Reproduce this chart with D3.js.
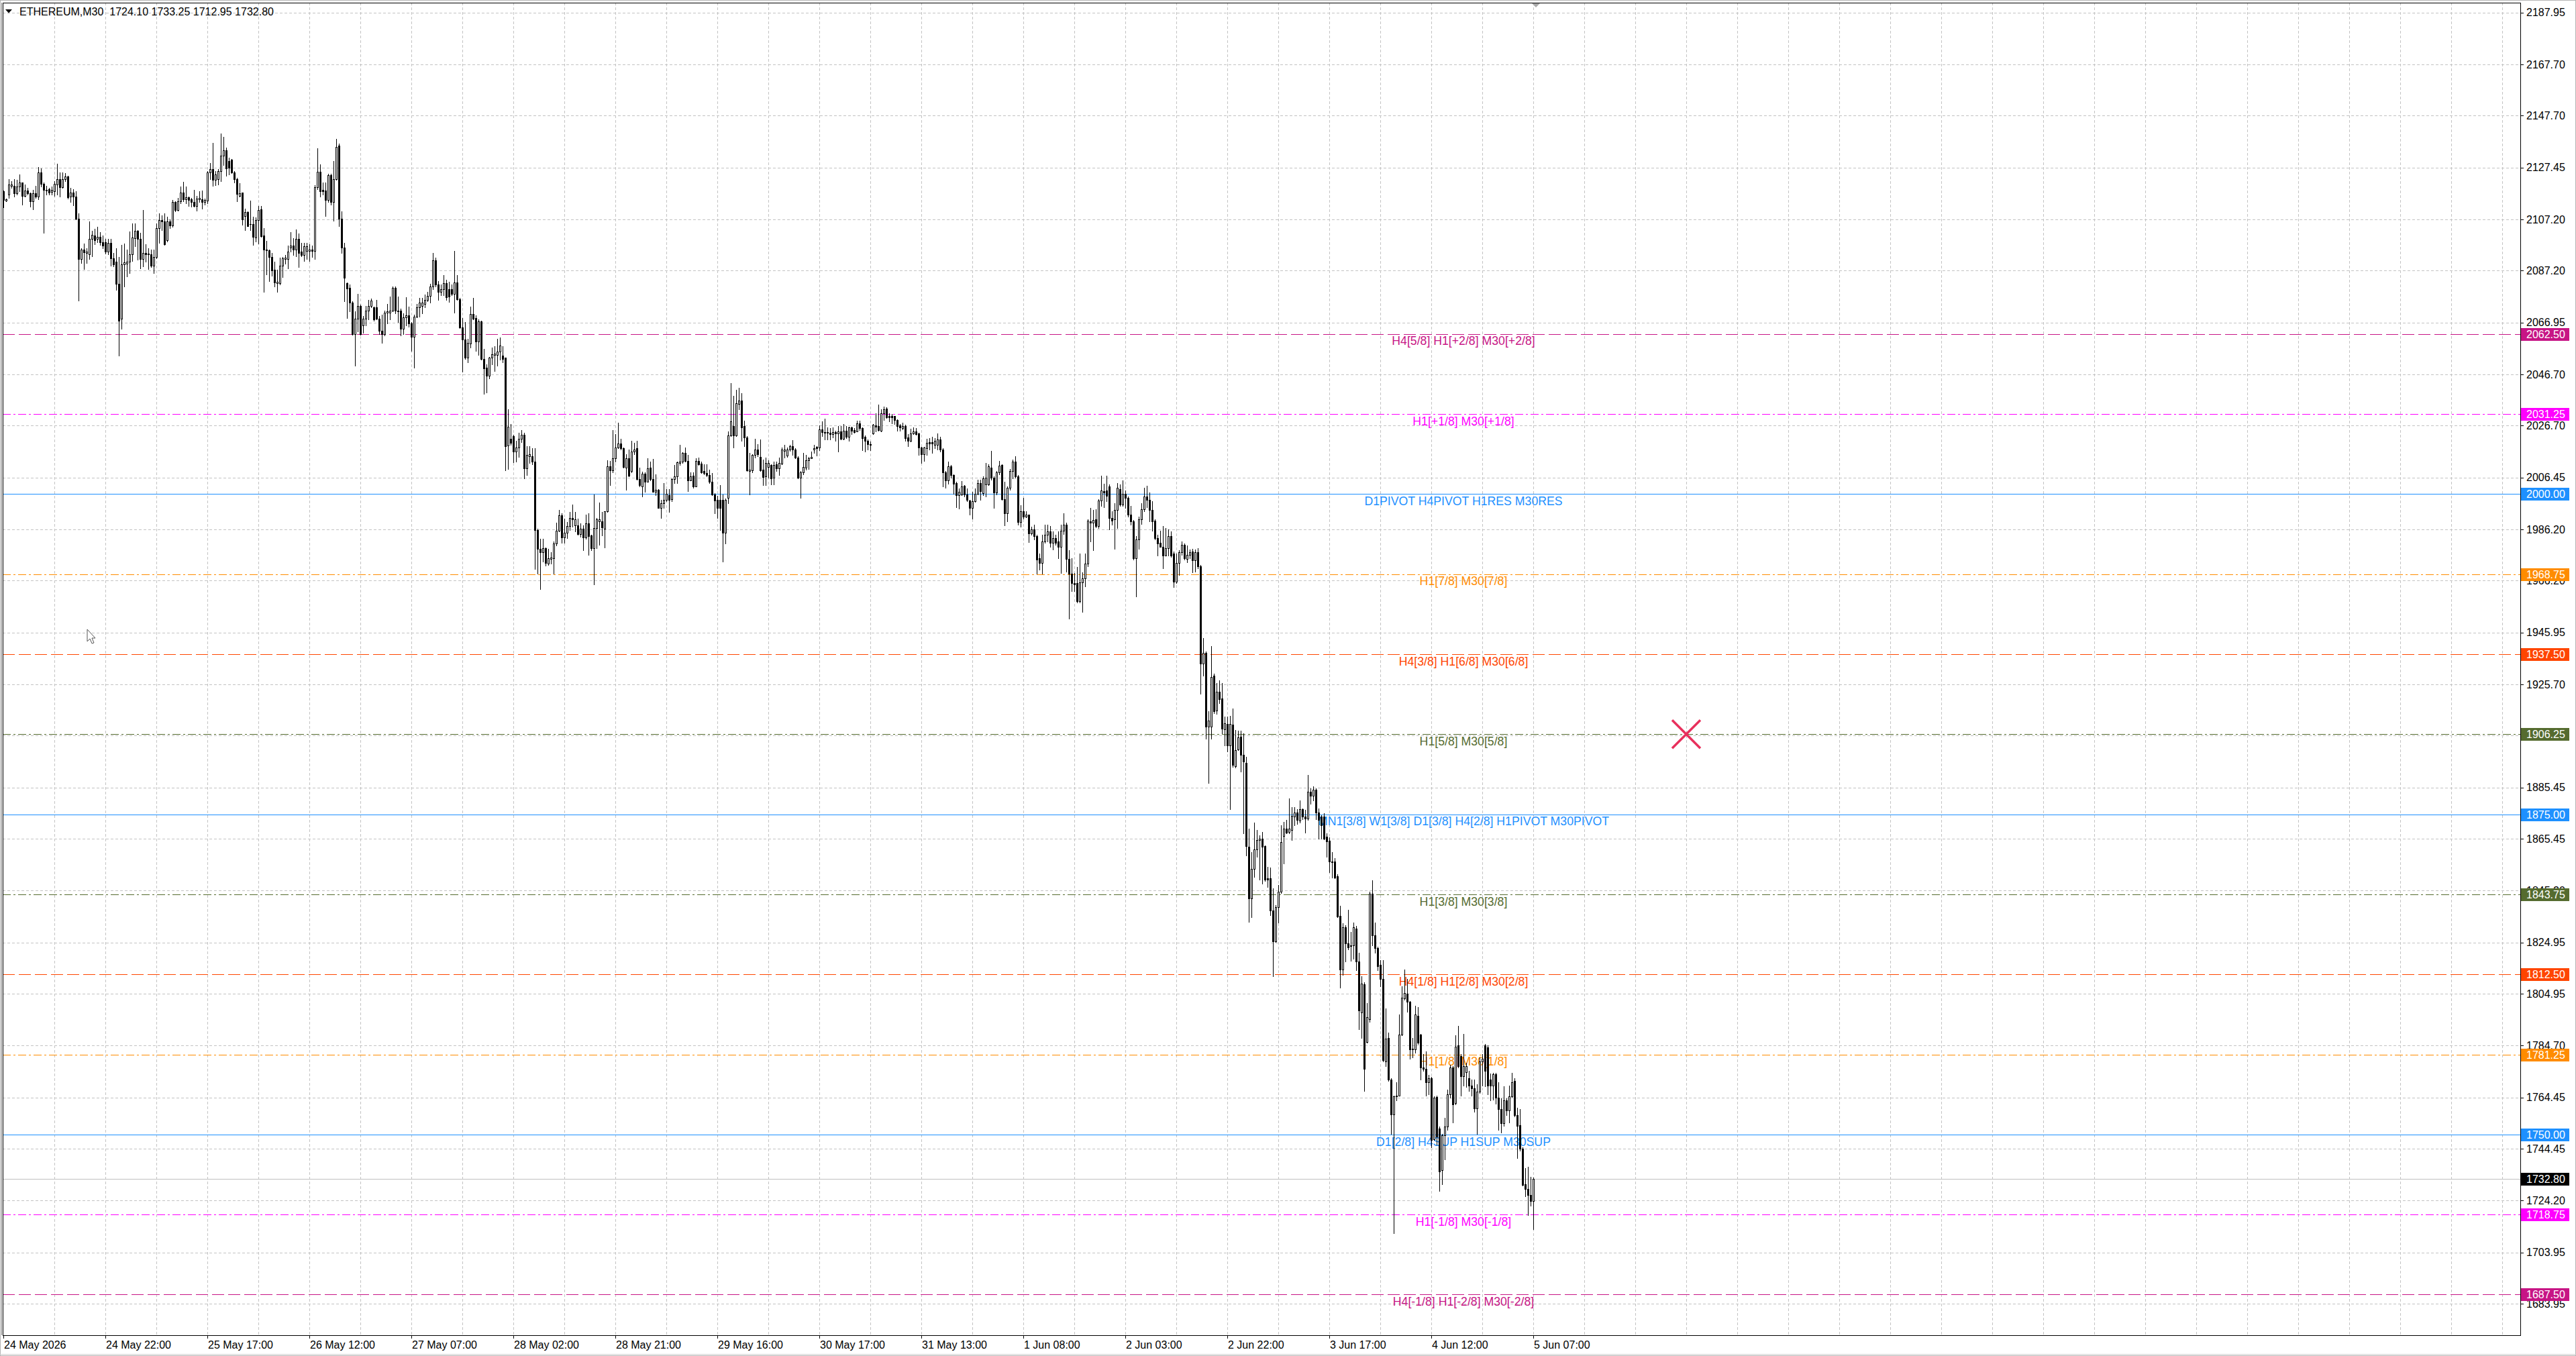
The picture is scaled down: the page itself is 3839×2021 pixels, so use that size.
<!DOCTYPE html>
<html><head><meta charset="utf-8">
<script src="https://cdn.jsdelivr.net/npm/d3@7/dist/d3.min.js"></script>
<style>html,body{margin:0;padding:0;background:#fff;overflow:hidden}svg{display:block}</style>
</head><body>
<svg id="chart" width="3839" height="2021"></svg>
<script>
// ---------------- DATA ----------------
const symbolTitle = "ETHEREUM,M30";
const headerOHLC = ["1724.10", "1733.25", "1712.95", "1732.80"];

const opens = [
2118.2,2114.5,2116.9,2120.2,2120.2,2117.5,2120.0,2121.7,2116.5,2118.4,
2117.5,2114.3,2117.4,2116.2,2125.5,2121.0,2118.8,2119.0,2118.0,2118.2,
2120.8,2123.0,2119.7,2122.8,2124.1,2116.0,2117.6,2116.0,2107.5,2091.8,
2095.3,2094.2,2093.5,2099.6,2100.9,2099.5,2100.3,2098.3,2098.3,2094.6,
2098.1,2092.0,2090.7,2082.0,2068.5,2089.6,2089.8,2090.7,2093.5,2099.9,
2102.8,2099.5,2091.8,2094.0,2093.6,2093.6,2089.1,2092.5,2103.8,2107.0,
2106.4,2099.0,2106.4,2104.9,2114.0,2110.8,2114.3,2117.8,2115.0,2115.8,
2115.2,2114.0,2112.5,2115.0,2115.0,2113.9,2114.5,2125.6,2126.9,2122.6,
2122.8,2126.1,2132.2,2134.1,2130.0,2130.6,2125.6,2122.8,2116.3,2117.6,
2108.4,2110.1,2105.5,2105.5,2100.1,2107.0,2111.2,
2100.8,2095.4,2095.2,
2092.5,2087.6,2082.3,2082.3,2089.1,2091.7,2091.7,2096.1,2097.1,2095.4,
2099.6,2094.6,2093.4,2094.9,2094.9,2095.4,2094.9,2119.7,2125.8,2118.8,
2118.5,2114.8,2124.6,2113.9,2123.0,2135.9,2107.4,2096.1,2082.3,2080.5,
2074.7,2062.4,2068.5,2073.5,2065.9,2068.5,2071.5,2073.3,2072.9,2072.9,
2068.5,2063.8,2062.4,2070.8,2070.8,2071.5,2080.5,2071.5,2071.5,2064.5,
2068.9,2069.7,2066.5,2061.5,2069.2,2072.9,2073.5,2074.3,2075.9,2077.4,
2081.1,2091.3,2081.7,2078.8,2080.0,2082.3,2080.0,2080.0,2078.2,2082.5,
2076.1,2065.0,2060.3,2053.3,2058.7,2070.4,2068.8,2059.5,2067.3,2052.8,
2049.2,2046.3,2053.3,2054.2,2054.2,2055.6,2054.0,2053.3,2018.9,2021.5,
2022.7,2016.6,2018.2,2021.5,2023.2,2010.0,
2014.8,2014.8,2012.6,1985.9,
1978.5,1977.4,1979.0,1972.8,1974.8,1975.0,1980.7,1985.8,1991.6,1983.1,
1984.9,1987.5,1990.7,1987.7,1987.7,1984.5,1986.6,1983.1,1988.6,1983.8,
1978.8,1986.8,1989.4,1989.4,1986.4,1993.2,2010.8,2009.3,2014.1,2018.1,
2019.7,2017.8,2010.4,2013.9,2009.1,2016.5,2018.0,2005.8,2003.1,2007.9,
2004.9,2010.4,2005.8,2001.0,2001.7,1994.7,1996.4,1997.7,1999.5,1997.9,
2005.8,2006.9,2012.1,2012.6,2016.1,2012.8,2005.4,2007.1,2003.1,2013.0,
2011.9,2009.1,2008.2,2007.3,2004.7,1999.7,1997.7,1997.7,1997.7,1984.9,
1998.6,2022.9,2026.5,2022.9,2035.3,2036.4,2026.5,2022.2,2009.1,2009.3,
2015.2,2017.4,2014.5,2009.5,2006.9,2010.6,2011.3,2006.5,2011.7,2010.0,
2012.0,2016.9,2014.9,2017.4,2018.7,
2017.5,2014.3,2006.5,2008.5,2010.4,
2013.2,2014.0,2017.4,2018.3,2018.1,2025.2,2024.2,2024.2,2023.9,2023.3,
2024.2,2023.7,2024.5,2021.6,2024.8,2022.4,2025.9,2025.1,2024.5,2027.7,
2025.7,2022.4,2020.9,2019.6,2023.7,2026.8,2026.5,2024.8,2031.4,2033.3,
2030.5,2030.5,2030.5,2028.9,2026.8,2025.7,2026.5,2022.2,2020.7,2023.7,
2024.5,2023.7,2018.1,2015.5,2017.8,2020.2,2020.2,2019.3,2019.3,2021.3,
2017.5,2008.6,2005.3,2010.8,2007.3,2004.3,1999.5,1999.9,2003.2,1999.9,
1997.5,1994.7,1997.1,2000.1,2004.3,2000.4,2003.8,2003.8,2010.4,2006.5,
2000.5,2008.5,2011.3,1998.0,1992.5,2002.5,2009.1,2012.6,2006.9,1989.0,
1993.4,1991.2,1991.9,1984.6,
1986.1,1983.5,1975.0,1973.0,1981.5,1984.1,
1985.4,1981.1,1982.8,1981.5,1979.3,1985.7,1988.0,1974.7,1968.9,1965.2,
1965.2,1958.3,1965.6,1967.2,1972.8,1989.3,1988.7,1990.2,1987.6,1997.5,
2001.1,2001.4,2003.0,1990.6,1990.2,1993.9,2002.0,1995.8,2000.1,1998.4,
1991.9,1989.3,1975.0,1982.2,1990.2,1994.1,1999.1,1997.8,1993.9,1989.7,
1982.8,1980.9,1979.5,1975.9,1978.9,1983.5,1976.9,1965.9,1973.0,1977.2,
1980.2,1974.6,1976.3,1977.6,1974.1,1977.2,1971.7,1933.9,1938.1,1909.2,
1909.2,1929.0,1915.5,1922.9,1920.3,1908.2,1910.2,1902.0,1909.9,1893.8,
1900.3,1905.3,1898.1,1895.1,1862.3,1842.1,1853.8,1861.2,1864.9,1865.5,
1862.5,1849.9,1849.9,1837.5,1825.5,1838.8,1844.7,1866.5,1869.5,1868.1,
1868.8,1874.0,1875.6,1872.5,1876.9,1874.0,1873.4,1883.8,1882.1,1884.7,
1875.6,1874.0,1874.0,1866.2,
1864.8,1856.5,1856.5,1850.8,1835.4,1814.3,
1830.8,1824.7,1823.9,1823.9,1830.5,1817.6,1797.7,1808.6,1786.2,1795.1,
1844.1,1827.7,1822.7,1816.2,1810.7,1778.4,1787.6,1771.5,1757.9,1764.8,
1765.1,1789.0,1803.2,1804.9,1801.7,1783.6,1783.2,1796.3,1789.0,1776.1,
1775.5,1770.3,1772.0,1748.2,1764.6,1752.4,1736.0,1749.6,1753.0,1765.7,
1776.1,1762.2,1784.7,1780.7,1772.8,1774.4,1772.0,1769.2,1768.0,1760.2,
1766.6,1778.4,1784.7,1783.9,1771.5,1769.2,1773.5,1764.3,1759.9,1754.4,
1763.4,1759.4,1764.8,1770.9,1757.6,1753.6,1744.4,1730.5,1728.8,1726.5,
1724.10];

const highs = [
2118.4,2115.3,2122.8,2122.1,2123.0,2122.6,2124.8,2121.7,2120.8,2119.5,
2117.8,2118.7,2120.2,2127.6,2127.1,2121.7,2120.2,2119.5,2120.0,2122.1,
2128.9,2125.6,2125.6,2125.2,2124.3,2119.5,2119.1,2118.2,2109.5,2095.9,
2097.7,2095.9,2106.3,2102.8,2103.6,2104.2,2102.2,2100.8,2099.5,2099.6,
2099.5,2094.0,2095.9,2092.5,2097.3,2097.7,2095.3,2102.5,2105.6,2105.7,
2103.1,2102.1,2111.0,2097.5,2095.9,2095.5,2095.3,2105.6,2109.7,2108.9,
2109.5,2108.2,2107.3,2114.7,2114.3,2115.6,2120.1,2121.9,2120.0,2116.0,
2115.6,2118.7,2116.5,2118.2,2118.4,2115.3,2126.1,2129.1,2137.0,2126.1,
2126.9,2140.7,2139.4,2135.2,2131.3,2130.9,2126.1,2123.5,2121.4,2117.8,
2111.4,2110.4,2114.5,2108.2,2107.9,2112.4,2112.5,
2103.9,2098.7,2095.4,
2094.0,2090.7,2087.6,2092.2,2092.5,2093.4,2096.9,2102.2,2099.8,2103.3,
2101.6,2098.1,2098.1,2098.1,2097.5,2096.9,2120.6,2135.1,2128.8,2121.5,
2121.5,2125.0,2125.0,2130.0,2138.7,2136.7,2110.4,2098.1,2082.5,2081.7,
2075.3,2071.2,2078.2,2073.9,2069.4,2073.5,2075.9,2076.2,2073.2,2075.9,
2069.4,2070.0,2071.5,2074.1,2077.0,2081.1,2081.1,2077.0,2072.4,2070.6,
2076.7,2073.2,2067.1,2070.0,2074.1,2076.5,2076.5,2077.9,2079.0,2082.1,
2094.2,2092.2,2083.2,2081.7,2085.6,2083.7,2082.9,2081.7,2094.8,2085.6,
2076.5,2068.8,2067.1,2060.7,2073.2,2076.5,2069.7,2068.3,2067.7,2056.6,
2050.7,2053.6,2057.1,2057.7,2060.7,2061.2,2057.7,2053.3,2033.2,2027.3,
2023.2,2020.9,2023.8,2025.0,2023.8,2018.6,
2018.7,2017.8,2017.8,1986.4,
1982.5,1982.6,1979.1,1978.5,1977.2,1981.6,1988.7,1993.8,1992.5,1990.3,
1989.0,1992.9,1996.0,1992.9,1990.3,1988.6,1987.7,1992.0,1992.5,1984.2,
1999.9,1990.7,1996.6,1992.9,1993.4,2013.2,2013.0,2025.0,2023.5,2027.8,
2021.6,2018.2,2015.6,2017.4,2020.9,2020.0,2020.9,2010.4,2008.8,2008.6,
2013.9,2012.6,2013.7,2007.8,2001.8,1997.7,2004.4,2001.8,2001.8,2006.0,
2011.4,2012.6,2019.1,2016.3,2018.2,2015.2,2008.6,2008.6,2013.9,2014.3,
2012.6,2011.7,2011.7,2009.5,2008.2,2000.3,1999.2,2003.4,1999.9,1998.2,
2024.5,2043.4,2038.3,2040.8,2041.4,2039.4,2028.7,2022.6,2016.1,2015.6,
2021.6,2019.6,2021.3,2013.4,2014.3,2013.2,2011.7,2012.6,2012.6,2014.3,
2018.1,2019.1,2018.2,2019.1,2021.0,
2017.8,2014.8,2009.1,2016.1,2015.2,
2014.6,2016.5,2019.1,2018.7,2026.8,2028.3,2029.4,2026.1,2025.7,2026.1,
2024.8,2026.5,2026.5,2027.4,2026.5,2026.3,2026.3,2025.7,2028.7,2028.7,
2025.9,2022.8,2021.3,2020.4,2027.2,2031.5,2035.0,2033.1,2034.1,2033.8,
2031.5,2031.2,2030.6,2029.2,2027.4,2027.9,2027.0,2023.3,2025.4,2025.9,
2025.7,2023.9,2018.4,2018.4,2021.6,2021.8,2022.4,2021.9,2023.7,2022.4,
2017.8,2009.1,2012.6,2011.3,2007.6,2004.7,2002.1,2005.0,2003.6,2002.1,
1997.7,2000.8,2002.1,2005.6,2005.6,2006.9,2012.1,2011.7,2016.9,2006.9,
2009.1,2013.0,2011.7,2004.7,2003.0,2009.7,2013.5,2014.8,2007.3,1995.6,
1998.6,1993.4,1992.1,1987.3,
1988.0,1984.1,1976.9,1984.1,1988.0,1988.0,
1987.4,1985.4,1984.1,1985.4,1988.0,1992.6,1988.7,1978.2,1975.0,1969.1,
1971.5,1976.7,1969.4,1976.7,1990.2,1994.5,1993.9,1994.1,1998.1,2007.2,
2004.0,2007.2,2003.7,1993.2,1996.5,2004.3,2003.7,2005.4,2001.4,1999.1,
1995.5,1990.0,1983.5,1991.3,1996.5,2002.4,2003.3,2000.7,1997.1,1990.2,
1984.1,1985.8,1987.6,1986.7,1986.3,1985.4,1977.6,1976.9,1978.0,1981.5,
1980.6,1979.8,1978.3,1978.5,1978.3,1978.9,1972.4,1943.7,1938.5,1915.1,
1940.7,1929.8,1926.1,1927.4,1926.1,1913.1,1913.1,1913.4,1916.4,1907.9,
1907.6,1907.6,1906.6,1897.5,1869.5,1860.3,1871.7,1868.8,1866.8,1868.1,
1862.9,1854.5,1854.2,1846.0,1839.5,1847.3,1870.8,1872.1,1872.7,1881.2,
1877.9,1877.9,1876.9,1880.5,1877.3,1876.6,1890.3,1885.1,1886.0,1885.1,
1877.3,1874.7,1875.3,1867.5,
1866.0,1860.2,1857.9,1851.6,1839.2,1832.5,
1831.6,1837.7,1829.1,1832.8,1831.4,1821.0,1811.8,1809.5,1801.4,1844.7,
1849.3,1832.6,1823.3,1818.1,1818.1,1799.1,1789.9,1772.0,1765.1,1770.5,
1796.8,1807.8,1814.4,1810.7,1802.0,1787.6,1800.3,1799.7,1789.3,1781.3,
1782.4,1773.2,1772.6,1764.8,1765.1,1753.0,1750.1,1756.5,1767.4,1777.2,
1776.7,1788.8,1792.5,1781.3,1789.3,1778.1,1774.9,1771.5,1771.5,1769.7,
1780.1,1781.3,1785.3,1784.7,1773.8,1774.0,1774.0,1770.3,1764.0,1768.9,
1764.0,1769.2,1774.0,1772.0,1760.5,1760.0,1745.0,1736.9,1737.5,1733.4,
1733.25];

const lows = [
2111.8,2114.3,2115.6,2119.5,2116.0,2116.9,2118.2,2113.0,2116.0,2116.9,
2112.1,2111.2,2115.6,2115.2,2120.0,2102.1,2116.9,2116.9,2116.9,2116.5,
2116.9,2116.2,2119.5,2122.1,2115.3,2113.9,2112.7,2107.3,2075.4,2090.3,
2087.9,2090.3,2091.8,2092.9,2097.5,2098.4,2097.3,2095.9,2093.8,2093.6,
2089.2,2089.0,2079.6,2054.0,2064.5,2081.1,2085.0,2086.3,2091.1,2096.8,
2091.6,2088.1,2088.8,2090.7,2087.9,2088.5,2086.2,2092.0,2098.0,2102.9,
2097.3,2098.6,2103.8,2104.2,2110.4,2110.5,2113.4,2114.3,2113.4,2112.5,
2112.1,2112.1,2110.5,2113.9,2111.5,2113.0,2113.4,2123.0,2120.4,2120.6,
2120.8,2122.1,2128.3,2124.3,2124.8,2125.2,2121.7,2114.3,2116.0,2105.1,
2102.9,2104.5,2102.9,2097.3,2098.6,2097.7,2100.3,
2079.0,2085.8,2083.2,
2085.2,2081.1,2078.8,2081.7,2084.6,2089.9,2088.1,2094.6,2093.4,2092.8,
2088.7,2092.8,2091.1,2091.7,2091.1,2092.6,2091.7,2119.1,2116.2,2116.8,
2108.6,2113.9,2112.9,2106.8,2122.6,2104.5,2094.0,2075.3,2068.6,2071.2,
2062.2,2050.1,2063.6,2062.2,2063.0,2065.9,2068.3,2072.9,2067.7,2068.3,
2062.4,2059.1,2061.8,2066.5,2068.3,2071.2,2070.6,2067.1,2061.8,2062.4,
2065.9,2065.3,2056.0,2049.3,2068.9,2069.2,2070.6,2072.9,2075.3,2074.7,
2080.0,2081.1,2075.9,2077.6,2077.6,2075.9,2075.0,2077.6,2070.8,2075.9,
2064.8,2047.8,2052.8,2051.3,2057.2,2068.3,2056.0,2054.2,2052.5,2039.0,
2039.6,2045.1,2050.7,2048.1,2050.1,2052.5,2051.3,2009.2,2009.8,2019.2,
2012.4,2012.7,2014.5,2020.3,2006.1,2007.5,
2012.1,2011.7,1970.7,1968.9,
1962.8,1973.7,1972.0,1972.4,1972.8,1968.9,1979.8,1985.5,1981.1,1981.1,
1982.9,1985.9,1987.3,1985.5,1984.2,1983.3,1978.1,1982.5,1976.3,1978.1,
1964.8,1979.0,1980.3,1983.8,1979.1,1992.9,2003.6,2008.6,2012.6,2017.8,
2017.4,2010.4,2001.7,2006.9,2008.6,2015.6,2005.6,2003.0,1999.0,2000.8,
2004.7,2005.2,2000.8,1999.5,1994.7,1990.7,1994.7,1997.3,1992.9,1997.3,
2004.3,2004.3,2011.3,2012.1,2012.6,2001.2,2005.2,2002.5,2003.0,2011.3,
2008.2,2007.8,2006.9,2004.3,1999.5,1992.5,1990.7,1985.9,1973.7,1980.7,
1996.4,2022.6,2018.2,2022.6,2033.1,2020.9,2018.7,2009.1,1999.9,2008.5,
2014.3,2014.8,2009.1,2003.4,2003.6,2006.5,2003.8,2003.8,2009.1,2007.3,
2011.7,2014.3,2014.6,2016.9,2015.2,
2013.9,2006.2,1998.6,2007.8,2009.5,
2009.9,2013.9,2016.1,2014.9,2017.2,2022.6,2021.3,2021.3,2021.3,2022.2,
2020.9,2016.5,2021.3,2021.3,2021.8,2020.9,2023.3,2023.9,2024.4,2025.1,
2017.2,2016.5,2017.4,2017.2,2023.3,2024.4,2024.8,2024.4,2028.9,2029.8,
2028.3,2027.7,2027.4,2024.8,2024.8,2025.2,2020.9,2018.7,2020.4,2023.3,
2023.1,2015.2,2012.1,2013.0,2015.2,2017.4,2016.1,2017.8,2017.4,2016.5,
2003.0,2002.5,2003.9,2006.5,2000.1,1994.9,1994.2,1999.5,1999.0,1997.3,
1992.1,1990.3,1996.9,1999.9,1997.7,1999.5,1999.0,2003.4,2005.6,1994.7,
1999.9,2007.8,1997.7,1987.9,1989.4,2001.7,2006.0,2006.5,1988.1,1987.3,
1990.3,1991.0,1981.2,1984.2,
1982.2,1968.9,1970.4,1968.9,1980.9,1981.5,
1979.3,1978.3,1980.2,1975.0,1969.1,1984.5,1969.8,1951.5,1962.0,1962.0,
1957.7,1957.7,1954.1,1963.9,1971.7,1981.5,1978.0,1987.1,1986.7,1995.4,
1994.9,1997.1,1986.3,1988.0,1978.5,1986.7,1995.4,1995.4,1994.5,1991.3,
1988.0,1974.3,1960.0,1978.5,1988.4,1993.2,1994.9,1989.3,1985.8,1982.2,
1975.9,1979.3,1971.1,1975.9,1975.9,1975.4,1963.6,1965.2,1968.5,1976.3,
1974.3,1973.3,1975.0,1969.4,1969.8,1971.1,1922.0,1929.0,1904.6,1887.3,
1904.6,1914.4,1914.1,1918.3,1906.6,1902.0,1899.4,1876.9,1893.6,1893.3,
1900.1,1891.6,1867.5,1859.0,1833.0,1834.9,1850.6,1858.4,1849.5,1848.0,
1849.0,1846.7,1835.6,1811.7,1825.2,1832.6,1844.3,1855.8,1867.5,1867.5,
1864.9,1870.8,1871.1,1871.7,1873.0,1867.8,1872.7,1879.2,1880.3,1873.0,
1865.5,1865.5,1865.2,1858.4,
1852.4,1850.4,1849.9,1834.9,1807.2,1812.4,
1817.6,1822.2,1817.8,1818.7,1814.1,1791.0,1787.6,1766.9,1785.9,1793.9,
1823.9,1821.0,1814.1,1807.8,1778.6,1776.7,1770.9,1750.1,1711.5,1763.4,
1765.1,1788.8,1802.6,1798.0,1779.5,1780.1,1781.8,1785.3,1771.5,1774.9,
1765.1,1765.7,1744.9,1747.8,1746.1,1727.9,1730.5,1740.4,1751.9,1764.3,
1754.8,1761.7,1776.1,1765.1,1769.2,1768.6,1766.9,1765.1,1758.8,1750.1,
1766.3,1769.2,1768.9,1765.7,1763.4,1763.6,1762.0,1751.9,1750.7,1753.3,
1757.6,1754.8,1764.6,1757.1,1740.9,1743.8,1730.0,1725.9,1718.5,1722.1,
1712.95];

const closes = [
2114.7,2115.2,2120.8,2120.8,2117.5,2120.0,2121.7,2116.5,2118.4,2117.4,
2114.3,2117.4,2116.2,2125.5,2121.0,2118.7,2118.5,2117.8,2118.7,2121.1,
2123.0,2119.7,2122.8,2124.1,2115.9,2117.6,2116.0,2107.5,2091.8,2095.3,
2094.4,2094.6,2099.6,2101.2,2099.2,2100.3,2098.4,2097.1,2094.6,2098.1,
2092.0,2089.6,2082.0,2067.6,2089.6,2090.5,2090.7,2093.5,2100.1,2102.8,
2099.5,2091.8,2094.0,2093.6,2093.9,2089.1,2092.6,2103.8,2107.0,2106.4,
2097.5,2106.4,2104.9,2114.0,2110.8,2114.3,2117.8,2115.0,2115.8,2114.7,
2114.0,2112.5,2115.3,2115.6,2113.9,2114.7,2125.6,2126.9,2122.6,2124.8,
2126.1,2132.2,2134.1,2127.2,2127.4,2125.6,2122.8,2117.2,2117.5,2107.3,
2110.1,2104.7,2105.3,2100.3,2107.0,2111.0,2100.6,
2095.4,2095.2,2092.5,
2087.2,2082.5,2082.9,2089.1,2091.9,2092.2,2094.6,2097.1,2095.4,2099.6,
2094.2,2093.4,2096.7,2096.7,2095.4,2094.9,2119.7,2125.8,2118.3,2118.3,
2114.8,2124.6,2113.9,2123.0,2135.5,2107.4,2096.1,2084.4,2080.3,2074.7,
2062.4,2068.5,2073.5,2062.4,2068.5,2071.5,2073.3,2075.5,2068.3,2068.5,
2063.8,2062.4,2070.8,2071.2,2071.5,2080.5,2071.5,2071.2,2064.5,2068.9,
2069.7,2066.5,2061.5,2069.2,2072.9,2074.7,2074.7,2075.9,2077.4,2081.1,
2091.3,2081.7,2078.8,2080.0,2082.3,2076.7,2077.0,2078.2,2082.6,2076.1,
2065.0,2060.3,2053.3,2058.9,2070.4,2068.5,2059.5,2067.3,2052.8,2049.0,
2046.3,2053.3,2054.5,2054.8,2055.6,2058.0,2052.8,2018.6,2026.4,2020.1,
2016.6,2018.2,2021.5,2023.2,2010.0,2015.4,
2015.6,2012.6,1985.9,1978.5,
1977.2,1979.0,1973.0,1975.0,1975.2,1980.7,1985.8,1991.6,1983.1,1984.9,
1987.5,1990.6,1990.1,1990.1,1984.5,1986.6,1983.1,1988.6,1983.5,1978.8,
1986.8,1990.1,1990.1,1987.0,1993.2,2010.8,2009.3,2014.1,2018.2,2019.7,
2017.8,2010.6,2013.9,2007.1,2016.7,2017.4,2005.8,2003.6,2007.9,2004.9,
2010.0,2005.8,2001.0,2001.7,1994.7,1996.4,1997.7,2000.1,1997.7,2005.8,
2006.9,2012.3,2012.6,2016.1,2012.8,2005.4,2006.9,2003.0,2012.8,2011.7,
2008.6,2008.2,2007.3,2004.7,1999.7,1997.6,1994.5,1994.7,1984.9,1997.7,
2022.9,2028.5,2022.9,2035.5,2036.4,2026.1,2022.2,2009.3,2009.5,2015.2,
2017.4,2015.5,2009.3,2006.7,2012.1,2012.1,2006.2,2011.3,2010.0,2012.1,
2017.5,2017.4,2017.4,2018.7,2017.4,
2014.3,2006.5,2008.5,2010.6,2013.2,
2014.0,2014.5,2017.8,2017.8,2025.2,2024.2,2023.9,2023.8,2023.3,2024.2,
2023.7,2024.4,2021.6,2024.8,2022.4,2025.9,2024.8,2024.2,2027.7,2025.7,
2021.9,2020.9,2019.6,2019.1,2027.0,2026.3,2025.1,2031.4,2033.1,2030.0,
2030.0,2030.0,2028.9,2026.5,2025.9,2026.5,2021.9,2020.7,2023.7,2024.5,
2023.5,2018.1,2015.5,2018.1,2020.0,2019.8,2019.8,2020.7,2021.3,2017.5,
2008.5,2005.3,2010.8,2007.3,2003.9,1999.5,2000.8,2003.0,1999.9,1997.7,
1994.7,1997.1,2000.1,2004.3,2001.2,2006.0,2006.5,2010.8,2006.5,2000.5,
2008.5,2011.0,1998.0,1992.5,2002.5,2009.1,2012.6,2006.9,1989.0,1993.4,
1991.2,1991.9,1984.6,1986.1,
1983.5,1974.3,1973.0,1981.5,1984.1,1985.4,
1981.1,1982.8,1981.1,1979.3,1985.7,1988.0,1974.7,1968.9,1965.2,1964.8,
1958.3,1965.6,1967.2,1972.8,1989.6,1988.7,1990.0,1987.6,1997.5,2001.4,
2000.7,1999.4,1990.6,1989.7,1993.9,2002.4,1995.8,2000.1,1998.4,1991.9,
1989.3,1975.0,1982.2,1990.2,1994.1,1999.1,1997.8,1993.9,1989.3,1982.8,
1980.6,1979.5,1975.9,1978.9,1983.5,1975.9,1965.9,1973.0,1977.2,1980.2,
1975.0,1976.3,1977.2,1974.1,1977.2,1971.7,1933.9,1938.1,1909.2,1911.5,
1928.7,1915.1,1922.9,1919.9,1908.5,1910.5,1902.0,1910.2,1894.2,1900.1,
1905.0,1898.1,1895.5,1862.5,1842.1,1853.8,1861.2,1864.9,1865.5,1862.3,
1849.5,1849.5,1837.5,1825.5,1838.8,1844.7,1864.2,1869.5,1867.8,1869.5,
1874.3,1875.6,1872.7,1876.9,1874.0,1873.4,1883.8,1882.1,1884.7,1875.6,
1872.7,1870.8,1865.5,1864.3,
1856.5,1856.2,1850.4,1835.1,1814.3,1830.8,
1824.7,1823.1,1823.6,1830.8,1817.6,1798.5,1808.9,1775.5,1795.7,1844.1,
1827.7,1822.7,1815.8,1810.7,1779.0,1787.4,1771.5,1757.9,1764.8,1765.1,
1789.0,1803.5,1805.1,1801.7,1783.2,1783.2,1796.8,1785.9,1776.1,1775.5,
1770.5,1772.0,1747.8,1764.3,1749.3,1735.5,1749.6,1753.0,1765.7,1776.1,
1761.7,1784.4,1776.7,1772.8,1776.7,1776.7,1769.2,1768.0,1760.2,1766.6,
1778.4,1779.5,1774.9,1769.2,1769.2,1773.5,1764.3,1759.9,1754.4,1763.4,
1759.4,1764.8,1770.5,1757.6,1753.3,1744.4,1730.2,1728.8,1726.5,1724.0,
1732.80];

// time axis: one label every 38 bars (19 hours of M30), grid every 19 bars
const timeLabels = ["24 May 2026","24 May 22:00","25 May 17:00","26 May 12:00","27 May 07:00",
  "28 May 02:00","28 May 21:00","29 May 16:00","30 May 17:00","31 May 13:00","1 Jun 08:00",
  "2 Jun 03:00","2 Jun 22:00","3 Jun 17:00","4 Jun 12:00","5 Jun 07:00"];
const barsPerLabel = 38;
const barsPerGrid = 19;

// right price scale
const priceTicks = [2187.95,2167.70,2147.70,2127.45,2107.20,2087.20,2066.95,2046.70,2026.70,
  2006.45,1986.20,1966.20,1945.95,1925.70,1905.70,1885.45,1865.45,1845.20,1824.95,1804.95,
  1784.70,1764.45,1744.45,1724.20,1703.95,1683.95];
const priceRange = [1671.65, 2191.81];

// Murrey-math style level lines
const levelPrices = [2062.50,2031.25,2000.00,1968.75,1937.50,1906.25,1875.00,1843.75,1812.50,1781.25,1750.00,1718.75,1687.50];
const levelTexts = ["H4[5/8] H1[+2/8] M30[+2/8]","H1[+1/8] M30[+1/8]","D1PIVOT H4PIVOT H1RES M30RES",
  "H1[7/8] M30[7/8]","H4[3/8] H1[6/8] M30[6/8]","H1[5/8] M30[5/8]",
  "MN1[3/8] W1[3/8] D1[3/8] H4[2/8] H1PIVOT M30PIVOT","H1[3/8] M30[3/8]","H4[1/8] H1[2/8] M30[2/8]",
  "H1[1/8] M30[1/8]","D1[2/8] H4SUP H1SUP M30SUP","H1[-1/8] M30[-1/8]","H4[-1/8] H1[-2/8] M30[-2/8]"];
const levelKinds = ["outer","ext","pivot","near","major","minor","pivot","minor","major","near","pivot","ext","outer"];
const levelLabelBar = 544;          // time anchor of the level captions
const lastPrice = 1732.80;
const crossMark = {bar: 627, price: 1906.25};

// ---------------- STYLE ----------------
const kindStyle = {
  outer: {color:"#C71585", dash:"18,6"},
  ext:   {color:"#FF00FF", dash:"12,4,3,4"},
  pivot: {color:"#1E90FF", dash:null},
  near:  {color:"#FF8C00", dash:"12,4,3,4"},
  major: {color:"#FF4500", dash:"18,6"},
  minor: {color:"#556B2F", dash:"12,4,3,4"}
};
const FONT = "'Liberation Sans', Arial, sans-serif";
const W = 3839, H = 2021;
const plot = {left:4, top:4, right:3756, bottom:1990};

// sanity check
const n = opens.length;
if (highs.length!==n || lows.length!==n || closes.length!==n) {
  throw new Error("length mismatch " + [opens.length,highs.length,lows.length,closes.length].join(","));
}

// ---------------- SCALES ----------------
const x = d3.scaleLinear().domain([0, n-1]).range([5, 5 + 4*(n-1)]);
const y = d3.scaleLinear().domain(priceRange).range([plot.bottom, plot.top]);
const px = v => Math.round(v) + 0.5;

const svg = d3.select("#chart");
svg.append("rect").attr("width",W).attr("height",H).attr("fill","#fff");

// window frame
svg.append("rect").attr("x",0.5).attr("y",0.5).attr("width",W-1).attr("height",H-1)
  .attr("fill","none").attr("stroke","#b4b4b4").attr("stroke-width",1);
svg.append("line").attr("x1",0).attr("x2",W).attr("y1",2018.5).attr("y2",2018.5).attr("stroke","#d0d0d0");

const g = svg.append("g").attr("shape-rendering","crispEdges");

// grid
const gridColor = "#c3c3c3";
priceTicks.forEach(p => {
  g.append("line").attr("x1",plot.left).attr("x2",plot.right).attr("y1",px(y(p))).attr("y2",px(y(p)))
    .attr("stroke",gridColor).attr("stroke-dasharray","4,3");
});
const maxBar = x.invert(plot.right);
for (let b = barsPerGrid; b < maxBar; b += barsPerGrid) {
  g.append("line").attr("x1",px(x(b))).attr("x2",px(x(b))).attr("y1",plot.top).attr("y2",plot.bottom)
    .attr("stroke",gridColor).attr("stroke-dasharray","4,3");
}

// level lines
levelPrices.forEach((p,i) => {
  const st = kindStyle[levelKinds[i]];
  const ln = g.append("line").attr("x1",plot.left).attr("x2",plot.right)
    .attr("y1",px(y(p))).attr("y2",px(y(p))).attr("stroke",st.color);
  if (st.dash) ln.attr("stroke-dasharray",st.dash);
});
// current price line
g.append("line").attr("x1",plot.left).attr("x2",plot.right).attr("y1",px(y(lastPrice))).attr("y2",px(y(lastPrice)))
  .attr("stroke","#c0c0c0");

// level captions (behind candles)
const capG = svg.append("g");
levelPrices.forEach((p,i) => {
  capG.append("text").attr("x", x(levelLabelBar)).attr("y", y(p) + 16.7)
    .attr("text-anchor","middle").attr("font-family",FONT).attr("font-size","17.7px")
    .attr("fill", kindStyle[levelKinds[i]].color).text(levelTexts[i]);
});

// candles
const cg = svg.append("g").attr("shape-rendering","crispEdges");
for (let i = 0; i < n; i++) {
  const o = opens[i], h = highs[i], l = lows[i], c = closes[i];
  const xc = Math.round(x(i));
  cg.append("line").attr("x1",xc+0.5).attr("x2",xc+0.5)
    .attr("y1",Math.round(y(h))).attr("y2",Math.round(y(l))+1).attr("stroke","#000");
  const top = Math.round(y(Math.max(o,c))), bot = Math.round(y(Math.min(o,c)));
  if (c >= o) {
    if (bot - top < 2) {
      cg.append("rect").attr("x",xc-1).attr("y",top).attr("width",3).attr("height",Math.max(1,bot-top+1)).attr("fill","#000");
    } else {
      cg.append("rect").attr("x",xc-0.5).attr("y",top+0.5).attr("width",2).attr("height",bot-top)
        .attr("fill","#fff").attr("stroke","#000");
    }
  } else {
    cg.append("rect").attr("x",xc-1).attr("y",top).attr("width",3).attr("height",Math.max(1,bot-top+1)).attr("fill","#000");
  }
}

// plot border
svg.append("rect").attr("x",plot.left+0.5).attr("y",plot.top+0.5)
  .attr("width",plot.right-plot.left).attr("height",plot.bottom-plot.top)
  .attr("fill","none").attr("stroke","#000").attr("shape-rendering","crispEdges");
svg.append("line").attr("x1",plot.left-1.5).attr("x2",plot.left-1.5).attr("y1",plot.top).attr("y2",plot.bottom)
  .attr("stroke","#808080").attr("shape-rendering","crispEdges");

// right axis ticks & labels
const ax = svg.append("g");
priceTicks.forEach(p => {
  ax.append("line").attr("x1",plot.right).attr("x2",plot.right+5).attr("y1",px(y(p))).attr("y2",px(y(p)))
    .attr("stroke","#000").attr("shape-rendering","crispEdges");
  ax.append("text").attr("x",plot.right+9).attr("y",y(p)+5.6).attr("font-family",FONT).attr("font-size","16px")
    .attr("fill","#000").text(p.toFixed(2));
});
// level price boxes
function priceBox(p, bg) {
  ax.append("rect").attr("x",plot.right+1).attr("y",Math.round(y(p))-9).attr("width",72).attr("height",19)
    .attr("fill",bg).attr("shape-rendering","crispEdges");
  ax.append("text").attr("x",plot.right+9).attr("y",y(p)+6).attr("font-family",FONT).attr("font-size","16px")
    .attr("fill","#fff").text(p.toFixed(2));
}
levelPrices.forEach((p,i) => priceBox(p, kindStyle[levelKinds[i]].color));
priceBox(lastPrice, "#000");

// time axis
timeLabels.forEach((t,k) => {
  const b = k * barsPerLabel;
  const xx = Math.round(x(b));
  svg.append("line").attr("x1",xx+0.5).attr("x2",xx+0.5).attr("y1",plot.bottom).attr("y2",plot.bottom+5)
    .attr("stroke","#000").attr("shape-rendering","crispEdges");
  svg.append("text").attr("x",xx+1).attr("y",2010).attr("font-family",FONT).attr("font-size","16px")
    .attr("fill","#000").text(t);
});

// header
svg.append("path").attr("d","M8,14 L18,14 L13,19.5 Z").attr("fill","#000");
svg.append("text").attr("x",29).attr("y",22.7).attr("font-family",FONT).attr("font-size","16px").attr("fill","#000")
  .attr("xml:space","preserve").text(symbolTitle + "  " + headerOHLC.join(" "));

// chart-shift marker
const sx = Math.round(x(n-1)) + 4;
svg.append("path").attr("d",`M${sx-6},${plot.top+1} L${sx+6},${plot.top+1} L${sx},${plot.top+7} Z`).attr("fill","#a8a8a8");

// cross mark
const cx = x(crossMark.bar), cy = y(crossMark.price);
svg.append("path").attr("d",`M${cx-21},${cy-21} L${cx+21},${cy+21} M${cx+21},${cy-21} L${cx-21},${cy+21}`)
  .attr("stroke","#E8305C").attr("stroke-width",3.5).attr("fill","none");

// mouse pointer
const mx = 130, my = 938;
svg.append("path").attr("d",`M${mx},${my} L${mx},${my+18} L${mx+4},${my+14} L${mx+7},${my+21} L${mx+10},${my+20} L${mx+7},${my+13} L${mx+12},${my+13} Z`)
  .attr("fill","#fff").attr("stroke","#555").attr("stroke-width",1);
</script>
</body></html>
